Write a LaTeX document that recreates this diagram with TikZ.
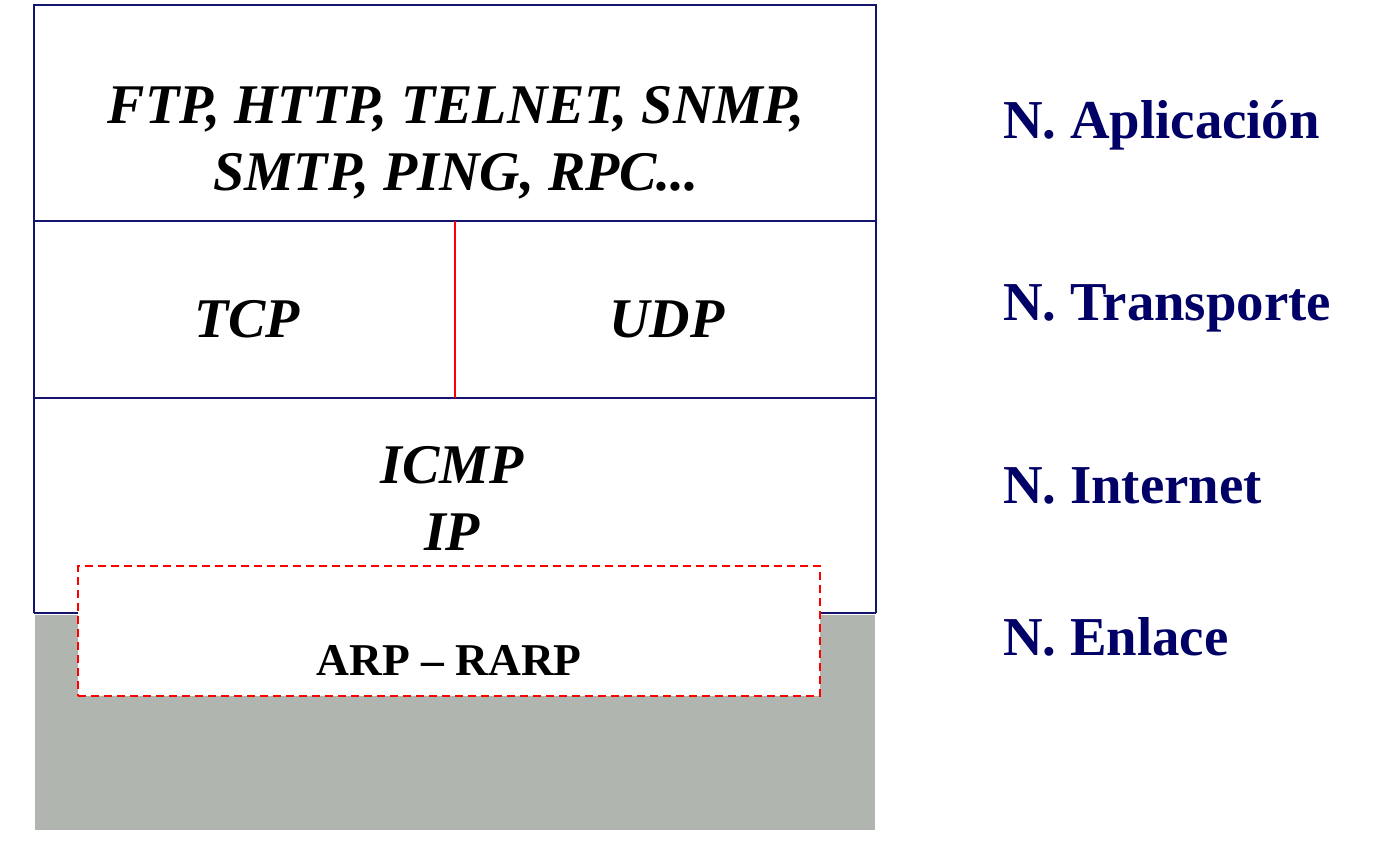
\documentclass[tikz,border=0pt]{standalone}
\usepackage{fontspec}
\setmainfont{Liberation Serif}
\definecolor{boxnavy}{RGB}{20,20,110}
\definecolor{labnavy}{RGB}{0,0,102}
\definecolor{enlgray}{RGB}{176,181,175}
\begin{document}
\begin{tikzpicture}[x=1pt,y=-1pt,
  proto/.style={font=\fontsize{56}{67}\selectfont\bfseries\itshape, anchor=base, inner sep=0pt},
  layer/.style={font=\fontsize{54.8}{64}\selectfont\bfseries, text=labnavy, anchor=base west, inner sep=0pt},
  frame/.style={draw=boxnavy, line width=1.5pt}]
\useasboundingbox (0,0) rectangle (1390,854);
% link layer gray
\fill[enlgray] (35,615) rectangle (875,830);
% stack frame
\draw[frame] (34,613) -- (34,5) -- (876,5) -- (876,613);
\draw[frame] (34,613) -- (876,613);
\draw[frame] (34,221) -- (876,221);
\draw[frame] (34,398) -- (876,398);
\draw[red, line width=1.8pt] (455,221) -- (455,398);
% ARP box
\node[draw=red, dashed, dash pattern=on 8pt off 5pt, line width=1.5pt, fill=white,
  minimum width=742pt, minimum height=130pt, inner sep=0pt] (arp) at (449,631) {};
\node[font=\fontsize{45.5}{54}\selectfont\bfseries, anchor=base, inner sep=0pt] (arptxt) at (449,675) {ARP – RARP};
% protocol texts
\node[proto] (app1) at (456,123) {FTP, HTTP, TELNET, SNMP,};
\node[proto] (app2) at (456,190) {SMTP, PING, RPC...};
\node[proto] (tcp) at (247,337) {TCP};
\node[proto] (udp) at (667,337) {UDP};
\node[proto] (icmp) at (452,483) {ICMP};
\node[proto] (ip) at (452,550) {IP};
% layer labels
\node[layer] (l1) at (1003,138) {N. Aplicación};
\node[layer] (l2) at (1003,320) {N. Transporte};
\node[layer] (l3) at (1003,503) {N. Internet};
\node[layer] (l4) at (1003,655) {N. Enlace};
\end{tikzpicture}
\end{document}
